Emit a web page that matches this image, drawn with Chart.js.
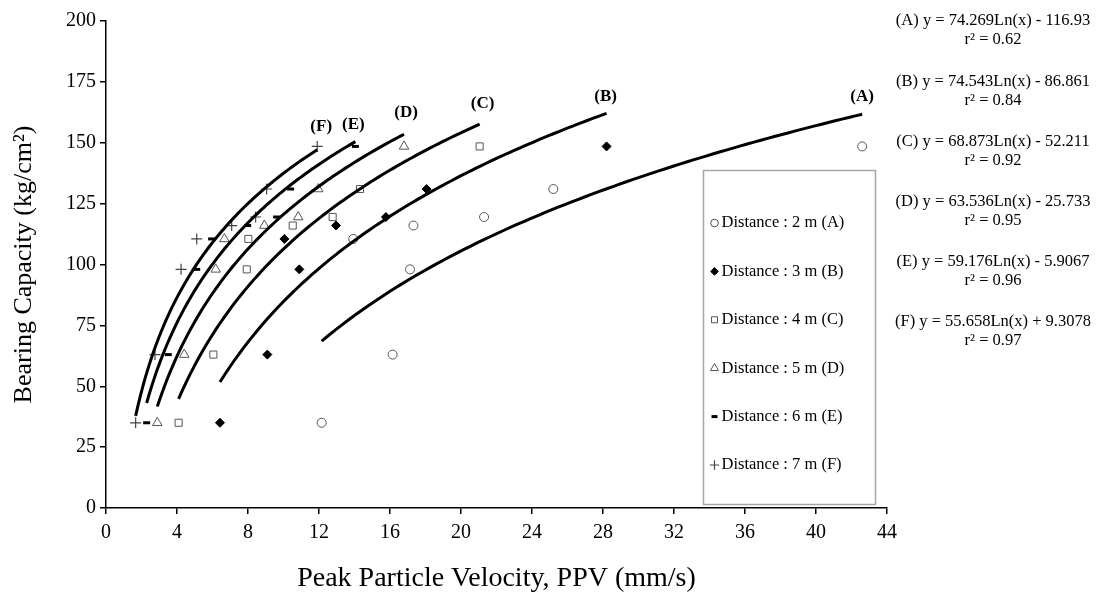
<!DOCTYPE html>
<html>
<head>
<meta charset="utf-8">
<script src="https://cdn.jsdelivr.net/npm/chart.js@4.4.1/dist/chart.umd.min.js"></script>
<style>
  html, body { margin: 0; padding: 0; background: #fff; }
</style>
</head>
<body>
<canvas id="grafico" width="1120" height="596"></canvas>
<script>
// dados
const distancias = ['2 m (A)', '3 m (B)', '4 m (C)', '5 m (D)', '6 m (E)', '7 m (F)'];
const letras = ['A', 'B', 'C', 'D', 'E', 'F'];
const bearing = [35, 63, 98, 110.5, 116, 119.5, 131, 148.5];
const ppvA = [12.15, 16.15, 17.13, 13.93, 17.32, 21.3, 25.2, 42.6];
const ppvB = [6.42, 9.09, 10.89, 10.05, 12.96, 15.77, 18.06, 28.2];
const ppvC = [4.09, 6.05, 7.93, 8.02, 10.52, 12.77, 14.31, 21.05];
const ppvD = [2.89, 4.41, 6.18, 6.67, 8.92, 10.83, 11.96, 16.79];
const ppvE = [2.29, 3.51, 5.11, 5.95, 7.98, 9.61, 10.4, 14.05];
const ppvF = [1.67, 2.76, 4.23, 5.11, 7.08, 8.43, 9.05, 11.9];
const ppvs = [ppvA, ppvB, ppvC, ppvD, ppvE, ppvF];

// coeficientes das linhas de tendencia y = a*Ln(x) + b
const slopes = [74.269, 74.543, 68.873, 63.536, 59.176, 55.658];
const intercepts = [-116.93, -86.861, -52.211, -25.733, -5.9067, 9.3078];
const r2 = ['0.62', '0.84', '0.92', '0.95', '0.96', '0.97'];
const equacoes = [
  '(A) y = 74.269Ln(x) - 116.93',
  '(B) y = 74.543Ln(x) - 86.861',
  '(C) y = 68.873Ln(x) - 52.211',
  '(D) y = 63.536Ln(x) - 25.733',
  '(E) y = 59.176Ln(x) - 5.9067',
  '(F) y = 55.658Ln(x) + 9.3078'
];

const xTicks = [0, 4, 8, 12, 16, 20, 24, 28, 32, 36, 40, 44];
const yTicks = [0, 25, 50, 75, 100, 125, 150, 175, 200];

const FONTE = "'Liberation Serif', 'Times New Roman', serif";

// estilos dos marcadores
const marcadores = [
  { pointStyle: 'circle', radius: 4.5, borderWidth: 1, borderColor: '#555', backgroundColor: '#fff' },
  { pointStyle: 'rectRot', radius: 4.5, borderWidth: 1, borderColor: '#000', backgroundColor: '#000' },
  { pointStyle: 'rect', radius: 5, borderWidth: 1, borderColor: '#555', backgroundColor: '#fff' },
  { pointStyle: 'triangle', radius: 5.5, borderWidth: 1, borderColor: '#555', backgroundColor: '#fff' },
  { pointStyle: 'line', radius: 3.5, borderWidth: 3, borderColor: '#000', backgroundColor: '#000' },
  { pointStyle: 'cross', radius: 5.5, borderWidth: 1.2, borderColor: '#444', backgroundColor: '#444' }
];

function curva(i) {
  let xs = ppvs[i];
  let x0 = Math.min(...xs), x1 = Math.max(...xs);
  let pts = [];
  for (let k = 0; k <= 80; k++) {
    let x = x0 + (x1 - x0) * k / 80;
    pts.push({ x: x, y: slopes[i] * Math.log(x) + intercepts[i] });
  }
  return pts;
}

const datasets = [];
for (let i = 0; i < 6; i++) {
  datasets.push({
    label: 'curva ' + letras[i],
    data: curva(i),
    showLine: true,
    borderColor: '#000',
    borderWidth: 3,
    pointRadius: 0,
    tension: 0,
    fill: false
  });
}
for (let i = 0; i < 6; i++) {
  let m = marcadores[i];
  datasets.push({
    label: 'Distance : ' + distancias[i],
    data: ppvs[i].map((x, k) => ({ x: x, y: bearing[k] })),
    showLine: false,
    pointStyle: m.pointStyle,
    pointRadius: m.radius,
    pointBorderWidth: m.borderWidth,
    pointBorderColor: m.borderColor,
    pointBackgroundColor: m.backgroundColor,
    borderColor: m.borderColor,
    backgroundColor: m.backgroundColor
  });
}

// desenha rotulos, equacoes e legenda
const extras = {
  id: 'extras',
  afterDatasetsDraw(chart) {
    const ctx = chart.ctx;
    const xs = chart.scales.x, ys = chart.scales.y;
    ctx.save();

    // rotulos (A)...(F) no fim de cada curva
    ctx.font = 'bold 17px ' + FONTE;
    ctx.fillStyle = '#000';
    ctx.textAlign = 'center';
    ctx.textBaseline = 'middle';
    const ajuste = [[-2, 2], [-3, 3], [1, -1], [0, -2], [-4, 3], [2, -3]];
    for (let i = 0; i < 6; i++) {
      let xEnd = Math.max(...ppvs[i]);
      let yEnd = slopes[i] * Math.log(xEnd) + intercepts[i];
      ctx.fillText('(' + letras[i] + ')', xs.getPixelForValue(xEnd) + 2 + ajuste[i][0], ys.getPixelForValue(yEnd) - 20 + ajuste[i][1]);
    }

    // equacoes a direita
    ctx.font = '16.5px ' + FONTE;
    for (let i = 0; i < 6; i++) {
      let y = 21 + 60.2 * i;
      ctx.fillText(equacoes[i], 993, y);
      ctx.fillText('r\u00B2 = ' + r2[i], 993, y + 19);
    }

    // legenda
    const area = chart.chartArea;
    const bx = area.right - 183.5, by = 170.5, bw = 172, bh = 334;
    ctx.fillStyle = '#fff';
    ctx.fillRect(bx, by, bw, bh);
    ctx.strokeStyle = '#a6a6a6';
    ctx.lineWidth = 1.5;
    ctx.strokeRect(bx, by, bw, bh);
    ctx.textAlign = 'left';
    ctx.font = '16.5px ' + FONTE;
    for (let i = 0; i < 6; i++) {
      let y = 223 + 48.4 * i;
      let m = marcadores[i];
      ctx.fillStyle = m.backgroundColor;
      ctx.strokeStyle = m.borderColor;
      ctx.lineWidth = m.borderWidth;
      Chart.helpers.drawPoint(ctx, { pointStyle: m.pointStyle, radius: m.radius * 0.85, borderWidth: m.borderWidth, rotation: 0 }, bx + 11, y);
      ctx.fillStyle = '#000';
      ctx.fillText('Distance : ' + distancias[i], bx + 18, y);
    }
    ctx.restore();
  }
};

const config = {
  type: 'scatter',
  data: { datasets: datasets },
  options: {
    responsive: false,
    animation: false,
    layout: { padding: { top: 21, right: 233, left: 0, bottom: 0 } },
    plugins: {
      legend: { display: false },
      tooltip: { enabled: false }
    },
    scales: {
      x: {
        type: 'linear',
        min: 0,
        max: 44,
        afterBuildTicks: s => { s.ticks = xTicks.map(v => ({ value: v })) },
        afterFit: s => { s.height = 88 },
        ticks: { color: '#000', font: { family: FONTE, size: 20 }, padding: 7 },
        grid: { drawOnChartArea: false, drawTicks: true, tickLength: 6, color: '#000', lineWidth: 1.5 },
        border: { color: '#000', width: 1.5 },
        title: {
          display: true,
          text: 'Peak Particle Velocity, PPV (mm/s)',
          color: '#000',
          font: { family: FONTE, size: 28 },
          padding: { top: 0, bottom: 1 }
        }
      },
      y: {
        type: 'linear',
        min: 0,
        max: 200,
        afterBuildTicks: s => { s.ticks = yTicks.map(v => ({ value: v })) },
        afterFit: s => { s.width = 106 },
        ticks: { color: '#000', font: { family: FONTE, size: 20 }, padding: 4 },
        grid: { drawOnChartArea: false, drawTicks: true, tickLength: 6, color: '#000', lineWidth: 1.5 },
        border: { color: '#000', width: 1.5 },
        title: {
          display: true,
          text: 'Bearing Capacity (kg/cm\u00B2)',
          color: '#000',
          font: { family: FONTE, size: 26 },
          padding: { top: 9, bottom: 0 }
        }
      }
    }
  },
  plugins: [extras]
};

const myChart = new Chart(document.getElementById('grafico'), config);
</script>
</body>
</html>
